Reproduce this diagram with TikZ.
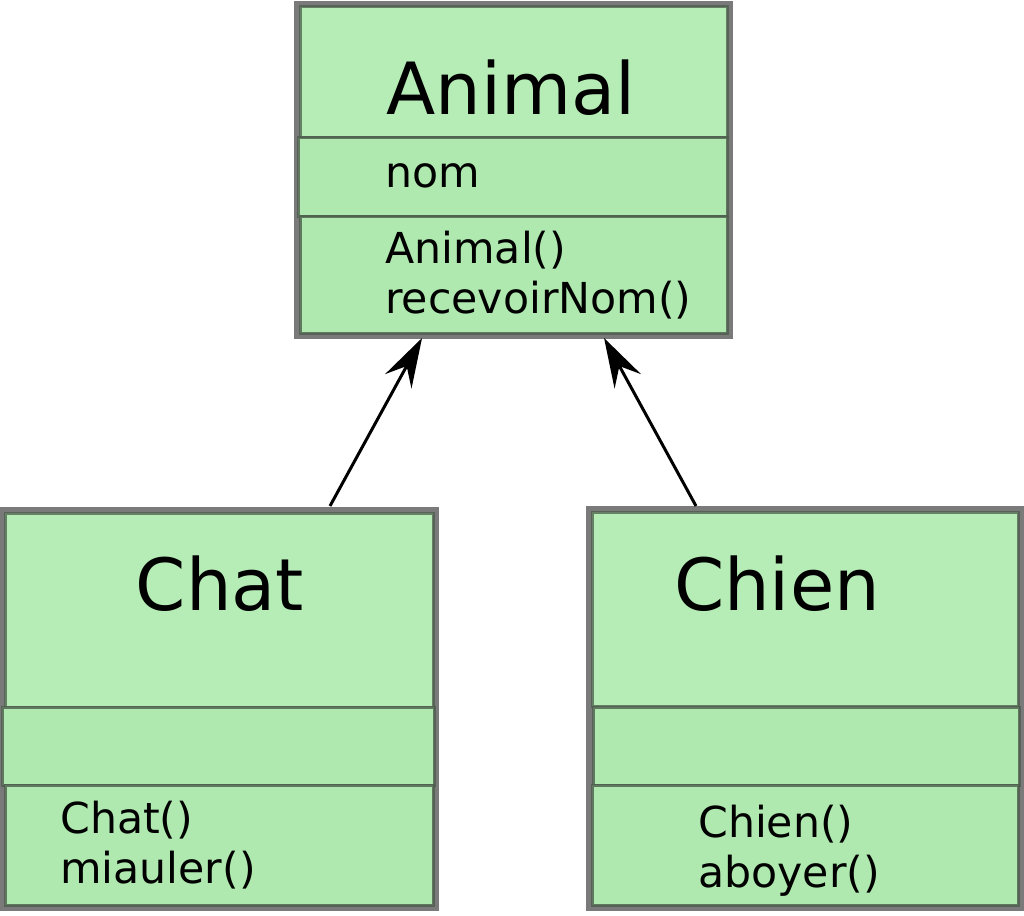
\documentclass[tikz,border=0pt]{standalone}
\usepackage{fontspec}
\setmainfont{DejaVu Sans}
\usepackage{xcolor}
\usepackage{tikz}
\usetikzlibrary{arrows.meta,positioning,fit,backgrounds}
\definecolor{titlegreen}{HTML}{B6ECB6}
\definecolor{partgreen}{HTML}{AFE9AF}
\definecolor{partline}{HTML}{4C5C4C}
\definecolor{halo}{HTML}{7A7A7A}
\tikzset{
    every picture/.style={line join=miter},
    titlepart/.style={draw=partline,fill=titlegreen,line width=2.25pt,draw opacity=0.75,
      anchor=north west,inner sep=0pt,outer sep=0pt},
    memberpart/.style={draw=partline,fill=partgreen,line width=2.25pt,draw opacity=0.8,
      anchor=north west,inner sep=0pt,outer sep=0pt},
    classframe/.style={draw=halo,line width=8.5pt,inner sep=0pt,outer sep=0pt},
    classname/.style={anchor=base,inner sep=0pt,font=\fontsize{54}{60}\selectfont},
    members/.style={anchor=base west,inner sep=0pt,align=left,
      font=\fontsize{32}{37.5}\selectfont},
    inherit/.style={-{Stealth[length=37pt,width=22.5pt,inset=13pt]},draw=black,
      line width=2.25pt}
}
\begin{document}
\begin{tikzpicture}[x=0.75pt,y=-0.75pt]
  \useasboundingbox (0,0) rectangle (1024,916);
  % Animal
  \node[titlepart,minimum width=320.25pt,minimum height=98.25pt] (animaltitle) at (300,7) {};
  \node[memberpart,minimum width=321.75pt,minimum height=59.25pt] (animalattr) at (298,138) {};
  \node[memberpart,minimum width=320.25pt,minimum height=87pt] (animalops) at (300,217) {};
  % Chat
  \node[titlepart,minimum width=321pt,minimum height=145.5pt] (chattitle) at (5,513) {};
  \node[memberpart,minimum width=324pt,minimum height=58.5pt] (chatattr) at (2,707) {};
  \node[memberpart,minimum width=321pt,minimum height=90pt] (chatops) at (5,785) {};
  % Chien
  \node[titlepart,minimum width=319.5pt,minimum height=145.5pt] (chientitle) at (592,512) {};
  \node[memberpart,minimum width=319.5pt,minimum height=58.5pt] (chienattr) at (593,707) {};
  \node[memberpart,minimum width=319.5pt,minimum height=90pt] (chienops) at (592,785) {};
  \begin{scope}[on background layer]
    \node[classframe,fit=(animaltitle)(animalops)] (animalbox) {};
    \node[classframe,fit=(chattitle)(chatops)] (chatbox) {};
    \node[classframe,fit=(chientitle)(chienops)] (chienbox) {};
  \end{scope}
  % texts (base of a two-line node is its last line)
  \node[classname] (animalname) at (511,115) {Animal};
  \node[members] (animalfields) at (385,188) {nom};
  \node[members] (animalmethods) at (385,313) {Animal()\\recevoirNom()};
  \node[classname] (chatname) at (220,610) {Chat};
  \node[members] (chatmethods) at (60,883) {Chat()\\miauler()};
  \node[classname] (chienname) at (777,610) {Chien};
  \node[members] (chienmethods) at (698,887) {Chien()\\aboyer()};
  % inheritance
  \draw[inherit] ([xshift=83.25pt,yshift=5.25pt]chattitle.north)--([xshift=-68.6pt,yshift=-3.75pt]animalops.south);
  \draw[inherit] ([xshift=-81.75pt,yshift=4.5pt]chientitle.north)--([xshift=67.9pt,yshift=-3.75pt]animalops.south);
\end{tikzpicture}
\end{document}
